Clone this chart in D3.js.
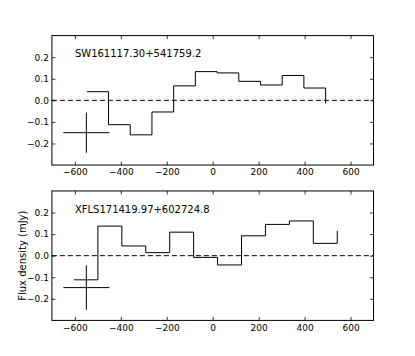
<!DOCTYPE html>
<html>
<head>
<meta charset="utf-8">
<script src="https://cdn.jsdelivr.net/npm/d3@7"></script>
<style>
  html, body { margin: 0; padding: 0; background: #fff; }
  svg { display: block; }
  text { font-family: "DejaVu Sans", sans-serif; }
</style>
</head>
<body>
<svg id="chart" width="415" height="356"></svg>
<script>
// ---- data ----
const xTicks = [-600, -400, -200, 0, 200, 400, 600];
const yTicks = [-0.2, -0.1, 0.0, 0.1, 0.2];
const xDomain = [-700, 700];
const yDomain = [-0.3, 0.3];

const topName = "SW161117.30+541759.2";
const topX = [-548, -453.5, -359, -264.5, -170, -75.5, 19, 113.5, 208, 302.5, 397, 491.5];
const topY = [0.040, -0.113, -0.160, -0.054, 0.067, 0.133, 0.127, 0.088, 0.071, 0.115, 0.057, -0.015];
const topErr = { x: -550, y: -0.150, xerr: 100, yerr: 0.093 };

const botName = "XFLS171419.97+602724.8";
const botX = [-604, -499.8, -395.6, -291.4, -187.2, -83, 21.2, 125.4, 229.6, 333.8, 438, 542.2];
const botY = [-0.112, 0.137, 0.045, 0.014, 0.109, -0.008, -0.043, 0.092, 0.145, 0.161, 0.057, 0.115];
const botErr = { x: -550, y: -0.148, xerr: 100, yerr: 0.103 };

const yLabel = "Flux density (mJy)";

// ---- layout ----
const svg = d3.select("#chart");
const left = 51.9, right = 373.5;
const panels = [
  { name: topName, xs: topX, ys: topY, err: topErr, top: 35.6, bottom: 165.05 },
  { name: botName, xs: botX, ys: botY, err: botErr, top: 190.95, bottom: 320.4 }
];

const fmtX = v => d3.format("d")(v).replace("-", "\u2212");
const fmtY = v => d3.format(".1f")(v).replace("-", "\u2212");

panels.forEach(p => {
  const x = d3.scaleLinear().domain(xDomain).range([left, right]);
  const y = d3.scaleLinear().domain(yDomain).range([p.bottom, p.top]);
  const g = svg.append("g");
  const w = right - left, h = p.bottom - p.top;

  // axes
  const tickLen = 3.5;
  const axB = g.append("g").attr("transform", `translate(0,${p.bottom})`)
    .call(d3.axisBottom(x).tickValues(xTicks).tickSizeInner(-tickLen).tickSizeOuter(0).tickPadding(4).tickFormat(fmtX));
  const axT = g.append("g").attr("transform", `translate(0,${p.top})`)
    .call(d3.axisTop(x).tickValues(xTicks).tickSizeInner(-tickLen).tickSizeOuter(0).tickFormat(""));
  const axL = g.append("g").attr("transform", `translate(${left},0)`)
    .call(d3.axisLeft(y).tickValues(yTicks).tickSizeInner(-tickLen).tickSizeOuter(0).tickPadding(3).tickFormat(fmtY));
  const axR = g.append("g").attr("transform", `translate(${right},0)`)
    .call(d3.axisRight(y).tickValues(yTicks).tickSizeInner(-tickLen).tickSizeOuter(0).tickFormat(""));
  [axB, axT, axL, axR].forEach(a => {
    a.select(".domain").remove();
    a.selectAll("line").attr("stroke", "#000").attr("stroke-width", 0.8);
    a.selectAll("text").attr("font-size", 9).attr("fill", "#000").style("font-family", "DejaVu Sans, sans-serif");
  });

  // zero dashed line
  g.append("line")
    .attr("x1", left).attr("x2", right)
    .attr("y1", y(0)).attr("y2", y(0))
    .attr("stroke", "#000").attr("stroke-width", 1)
    .attr("stroke-dasharray", "5,3");

  // step line (steps-post)
  const pts = p.xs.map((v, i) => [v, p.ys[i]]);
  g.append("path")
    .datum(pts)
    .attr("fill", "none")
    .attr("stroke", "#000")
    .attr("stroke-width", 1)
    .attr("d", d3.line().x(d => x(d[0])).y(d => y(d[1])).curve(d3.curveStepAfter));

  // error cross
  const e = p.err;
  g.append("line")
    .attr("x1", x(e.x - e.xerr)).attr("x2", x(e.x + e.xerr))
    .attr("y1", y(e.y)).attr("y2", y(e.y))
    .attr("stroke", "#000").attr("stroke-width", 1);
  g.append("line")
    .attr("x1", x(e.x)).attr("x2", x(e.x))
    .attr("y1", y(e.y - e.yerr)).attr("y2", y(e.y + e.yerr))
    .attr("stroke", "#000").attr("stroke-width", 1);

  // frame
  g.append("rect")
    .attr("x", left).attr("y", p.top)
    .attr("width", w).attr("height", h)
    .attr("fill", "none").attr("stroke", "#000").attr("stroke-width", 1);

  // label
  g.append("text")
    .attr("x", left + 23).attr("y", p.top + 21.8)
    .attr("font-size", 10).attr("fill", "#000")
    .text(p.name);
});

// y-axis label (bottom panel)
svg.append("text")
  .attr("transform", `translate(25.5,${(panels[1].top + panels[1].bottom) / 2}) rotate(-90)`)
  .attr("text-anchor", "middle")
  .attr("font-size", 10).attr("fill", "#000")
  .text(yLabel);
</script>
</body>
</html>
